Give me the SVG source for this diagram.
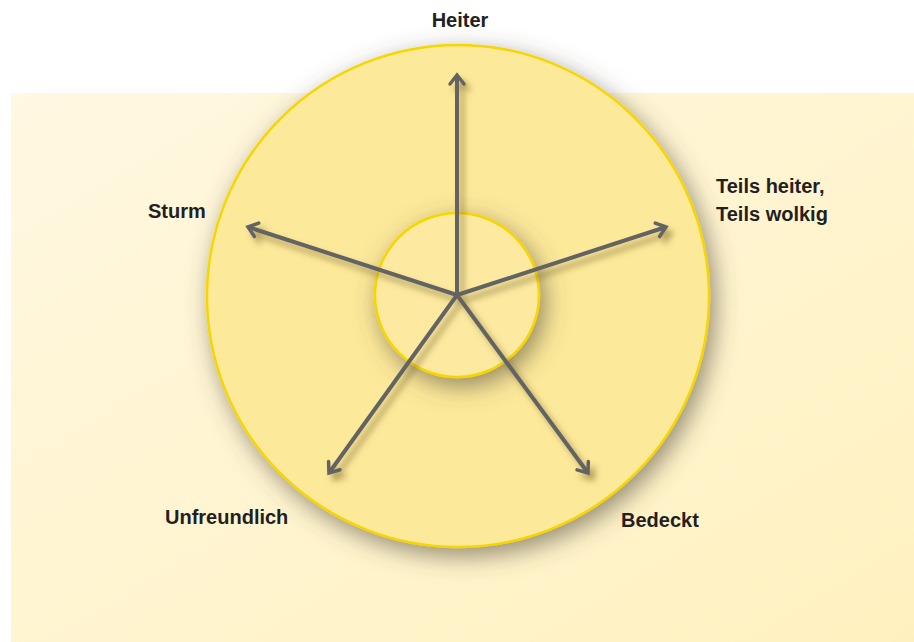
<svg xmlns="http://www.w3.org/2000/svg" width="914" height="642" viewBox="0 0 914 642">
<defs>
<linearGradient id="bg" x1="0" y1="0" x2="1" y2="1">
<stop offset="0" stop-color="#fff8e2"/>
<stop offset="1" stop-color="#fff1bf"/>
</linearGradient>
<filter id="sh" x="-30%" y="-30%" width="160%" height="160%">
<feDropShadow dx="5" dy="8" stdDeviation="12" flood-color="#4f4a38" flood-opacity="0.6"/>
</filter>
<filter id="ash" x="-20%" y="-20%" width="140%" height="140%">
<feDropShadow dx="5" dy="6" stdDeviation="3" flood-color="#6b5a20" flood-opacity="0.55"/>
</filter>
<marker id="ah" markerUnits="userSpaceOnUse" markerWidth="20" markerHeight="20" refX="0" refY="0" viewBox="-12 -10 14 20" orient="auto">
<path d="M -9,-7 L 0,0 L -9,7" fill="none" stroke="#636363" stroke-width="3.5" stroke-linecap="round" stroke-linejoin="miter"/>
</marker>
<style>
.lbl{font-family:"Liberation Sans",Arial,sans-serif;font-weight:bold;font-size:20px;fill:#231f20}
.con{stroke:#636363;stroke-width:4;fill:none;marker-end:url(#ah)}
</style>
</defs>
<rect x="0" y="0" width="914" height="642" fill="#ffffff"/>
<rect x="11" y="93" width="903" height="549" fill="url(#bg)"/>
<g id="outer">
<circle cx="458" cy="296" r="251" fill="#fde99a" stroke="#f7d600" stroke-width="2.5" filter="url(#sh)"/>
</g>
<g id="inner">
<circle cx="457" cy="295" r="82" fill="#fdeaa0" stroke="#f7d600" stroke-width="2.5" filter="url(#sh)"/>
</g>
<g id="connectors" filter="url(#ash)">
<line class="con" x1="457" y1="295" x2="457" y2="75"/>
<line class="con" x1="457" y1="295" x2="666" y2="227"/>
<line class="con" x1="457" y1="295" x2="248" y2="227"/>
<line class="con" x1="457" y1="295" x2="329" y2="473"/>
<line class="con" x1="457" y1="295" x2="588" y2="473"/>
</g>
<g id="heiter"><text class="lbl" x="460" y="27" text-anchor="middle">Heiter</text></g>
<g id="teils"><text class="lbl" x="716" y="193">Teils heiter,</text><text class="lbl" x="716" y="221">Teils wolkig</text></g>
<g id="sturm"><text class="lbl" x="148" y="218">Sturm</text></g>
<g id="unfreundlich"><text class="lbl" x="165" y="524">Unfreundlich</text></g>
<g id="bedeckt"><text class="lbl" x="621" y="527">Bedeckt</text></g>
</svg>
